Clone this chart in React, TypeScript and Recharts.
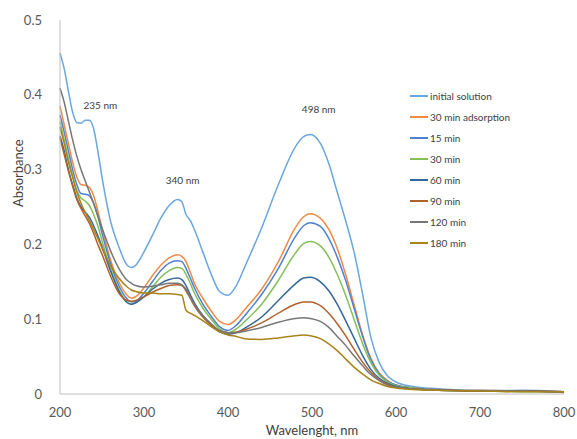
import React from "react";
import {
  LineChart,
  Line,
  XAxis,
  YAxis,
  Legend,
  ReferenceDot,
} from "recharts";

// wavelength grid (nm)
const wavelengths = [
  200, 205, 210, 215, 220, 225, 230, 235, 240, 245, 250, 260, 270, 280, 285, 290,
  300, 310, 320, 330, 340, 345, 350, 355, 360, 370, 380, 390, 400, 410, 420, 440,
  460, 480, 490, 498, 510, 520, 530, 540, 550, 560, 570, 580, 590, 600, 620, 650,
  700, 750, 800,
];

const initialSolution = [
  0.456, 0.435, 0.405, 0.377, 0.363, 0.362, 0.366, 0.366, 0.355, 0.325, 0.29, 0.232, 0.197, 0.172, 0.169, 0.172,
  0.19, 0.212, 0.235, 0.252, 0.26, 0.257, 0.24, 0.232, 0.22, 0.19, 0.16, 0.137, 0.132, 0.145, 0.17, 0.222,
  0.28, 0.33, 0.344, 0.347, 0.335, 0.308, 0.27, 0.232, 0.19, 0.135, 0.076, 0.042, 0.024, 0.016, 0.01, 0.007,
  0.004, 0.005, 0.003,
];
const adsorption30 = [
  0.385, 0.36, 0.335, 0.31, 0.29, 0.28, 0.279, 0.276, 0.265, 0.245, 0.222, 0.18, 0.15, 0.132, 0.128, 0.13,
  0.142, 0.158, 0.172, 0.182, 0.186, 0.184, 0.177, 0.163, 0.148, 0.128, 0.111, 0.097, 0.093, 0.1, 0.113, 0.14,
  0.177, 0.222, 0.237, 0.241, 0.235, 0.22, 0.195, 0.16, 0.12, 0.08, 0.048, 0.028, 0.018, 0.012, 0.008, 0.006,
  0.004, 0.004, 0.003,
];
const min15 = [
  0.373, 0.35, 0.325, 0.3, 0.28, 0.268, 0.267, 0.265, 0.255, 0.238, 0.215, 0.175, 0.145, 0.127, 0.123, 0.124,
  0.135, 0.15, 0.165, 0.175, 0.178, 0.177, 0.168, 0.155, 0.142, 0.12, 0.104, 0.09, 0.085, 0.092, 0.105, 0.133,
  0.168, 0.21, 0.225, 0.229, 0.224, 0.208, 0.183, 0.152, 0.115, 0.078, 0.046, 0.027, 0.017, 0.012, 0.008, 0.006,
  0.004, 0.004, 0.002,
];
const min30 = [
  0.364, 0.34, 0.315, 0.292, 0.272, 0.262, 0.258, 0.252, 0.24, 0.225, 0.205, 0.168, 0.14, 0.123, 0.12, 0.122,
  0.13, 0.143, 0.156, 0.165, 0.169, 0.168, 0.16, 0.148, 0.135, 0.115, 0.1, 0.087, 0.082, 0.087, 0.097, 0.12,
  0.152, 0.188, 0.201, 0.204, 0.198, 0.183, 0.16, 0.132, 0.1, 0.068, 0.042, 0.025, 0.016, 0.011, 0.008, 0.005,
  0.004, 0.003, 0.003,
];
const min60 = [
  0.345, 0.325, 0.3, 0.28, 0.262, 0.25, 0.243, 0.236, 0.225, 0.212, 0.197, 0.165, 0.138, 0.122, 0.12, 0.122,
  0.13, 0.14, 0.148, 0.153, 0.155, 0.153, 0.145, 0.133, 0.122, 0.105, 0.093, 0.083, 0.08, 0.082, 0.088, 0.103,
  0.125, 0.147, 0.155, 0.156, 0.15, 0.138, 0.12, 0.098, 0.075, 0.052, 0.033, 0.021, 0.014, 0.01, 0.007, 0.005,
  0.004, 0.004, 0.003,
];
const min90 = [
  0.342, 0.32, 0.298, 0.278, 0.26, 0.248, 0.238, 0.228, 0.215, 0.2, 0.187, 0.158, 0.135, 0.125, 0.124, 0.125,
  0.13, 0.136, 0.141, 0.145, 0.146, 0.145, 0.138, 0.128, 0.118, 0.103, 0.092, 0.084, 0.082, 0.083, 0.086, 0.095,
  0.108, 0.12, 0.123, 0.123, 0.118, 0.108, 0.094, 0.078, 0.06, 0.043, 0.029, 0.019, 0.013, 0.009, 0.007, 0.005,
  0.004, 0.004, 0.003,
];
const min120 = [
  0.409, 0.39, 0.365, 0.34, 0.318, 0.3, 0.285, 0.27, 0.255, 0.238, 0.222, 0.192, 0.168, 0.152, 0.148, 0.145,
  0.143, 0.144, 0.146, 0.148, 0.148, 0.146, 0.14, 0.13, 0.12, 0.105, 0.094, 0.085, 0.082, 0.082, 0.084, 0.089,
  0.096, 0.101, 0.102, 0.101, 0.097, 0.089, 0.077, 0.065, 0.051, 0.038, 0.026, 0.018, 0.012, 0.009, 0.007, 0.005,
  0.005, 0.004, 0.003,
];
const min180 = [
  0.357, 0.335, 0.31, 0.29, 0.27, 0.255, 0.243, 0.232, 0.22, 0.208, 0.195, 0.172, 0.155, 0.143, 0.139, 0.137,
  0.135, 0.135, 0.134, 0.134, 0.133, 0.132, 0.112, 0.108, 0.105, 0.098, 0.09, 0.083, 0.079, 0.077, 0.074, 0.073,
  0.075, 0.078, 0.079, 0.078, 0.074, 0.067, 0.058, 0.047, 0.036, 0.027, 0.019, 0.014, 0.01, 0.008, 0.006, 0.005,
  0.004, 0.003, 0.003,
];

const xTicks = [200, 300, 400, 500, 600, 700, 800];
const yTicks = [0, 0.1, 0.2, 0.3, 0.4, 0.5];

const series = [
  { key: "initial", name: "initial solution", color: "#6AA7DE", values: initialSolution },
  { key: "ads30", name: "30 min adsorption", color: "#F08A45", values: adsorption30 },
  { key: "m15", name: "15 min", color: "#5080D0", values: min15 },
  { key: "m30", name: "30 min", color: "#84C05A", values: min30 },
  { key: "m60", name: "60 min", color: "#33689C", values: min60 },
  { key: "m90", name: "90 min", color: "#B0622E", values: min90 },
  { key: "m120", name: "120 min", color: "#777777", values: min120 },
  { key: "m180", name: "180 min", color: "#A88318", values: min180 },
];

const data = wavelengths.map((wl, i) => {
  const row: any = { wl };
  series.forEach((s) => (row[s.key] = s.values[i]));
  return row;
});

const font = "Lato, 'Open Sans', sans-serif";

function LegendBox() {
  return (
    <div style={{ fontFamily: font, fontSize: 10, color: "#404040" }}>
      {series.map((s) => (
        <div key={s.key} style={{ display: "flex", alignItems: "center", height: 21 }}>
          <span style={{ display: "inline-block", width: 18, height: 2, background: s.color, marginRight: 2 }} />
          <span>{s.name}</span>
        </div>
      ))}
    </div>
  );
}

const noteLabel = (value: string) => ({
  value,
  position: "center" as const,
  fill: "#404040",
  fontSize: 10,
  fontFamily: font,
});

export default function App() {
  return (
    <div style={{ position: "absolute", left: 0, top: 0, width: 577, height: 439, background: "#fff" }}>
      <LineChart width={577} height={439} data={data} margin={{ top: 20, right: 13, bottom: 0, left: 0 }}>
        <XAxis
          dataKey="wl"
          type="number"
          domain={[200, 800]}
          ticks={xTicks}
          tickLine={false}
          axisLine={{ stroke: "#bfbfbf" }}
          tick={{ fill: "#595959", fontSize: 13, fontFamily: font }}
          tickMargin={8}
          height={45}
          label={{ value: "Wavelenght, nm", position: "insideBottom", offset: 4, fill: "#404040", fontSize: 13, fontFamily: font }}
        />
        <XAxis
          xAxisId="top"
          orientation="top"
          type="number"
          domain={[200, 800]}
          tick={false}
          tickLine={false}
          height={0}
          axisLine={{ stroke: "#d9d9d9" }}
        />
        <YAxis
          type="number"
          domain={[0, 0.5]}
          ticks={yTicks}
          tickLine={false}
          axisLine={{ stroke: "#bfbfbf" }}
          tick={{ fill: "#595959", fontSize: 13, fontFamily: font }}
          tickMargin={12}
          width={60}
          label={{ value: "Absorbance", angle: -90, position: "insideLeft", offset: 18, fill: "#404040", fontSize: 13, fontFamily: font }}
        />
        <YAxis
          yAxisId="right"
          orientation="right"
          type="number"
          domain={[0, 0.5]}
          tick={false}
          tickLine={false}
          width={0}
          axisLine={{ stroke: "#d9d9d9" }}
        />
        {series.map((s) => (
          <Line
            key={s.key}
            type="monotone"
            dataKey={s.key}
            name={s.name}
            stroke={s.color}
            strokeWidth={1.5}
            dot={false}
            isAnimationActive={false}
          />
        ))}
        <ReferenceDot x={248} y={0.386} r={0} stroke="none" fill="none" label={noteLabel("235 nm")} />
        <ReferenceDot x={346} y={0.285} r={0} stroke="none" fill="none" label={noteLabel("340 nm")} />
        <ReferenceDot x={508} y={0.38} r={0} stroke="none" fill="none" label={noteLabel("498 nm")} />
        <Legend
          layout="vertical"
          align="center"
          verticalAlign="middle"
          content={() => <LegendBox />}
          wrapperStyle={{ position: "absolute", left: 410, top: 85, width: 150 }}
        />
      </LineChart>
    </div>
  );
}
